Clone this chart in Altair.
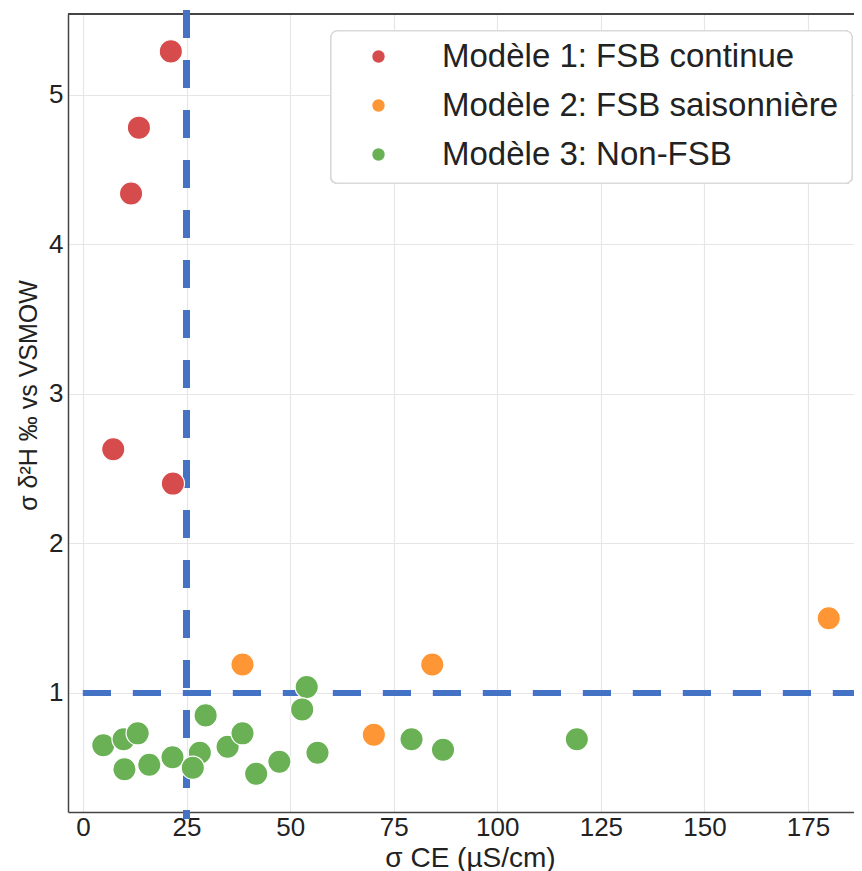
import altair as alt
import pandas as pd

# ---- data ----
m1_x = [21.2, 13.5, 11.6, 7.3, 21.7]
m1_y = [5.29, 4.78, 4.34, 2.63, 2.40]

m2_x = [38.5, 84.3, 70.2, 180.0]
m2_y = [1.19, 1.19, 0.72, 1.50]

m3_x = [4.9, 9.8, 13.2, 10.0, 16.0, 21.6, 28.2, 26.5, 29.6, 34.9, 38.5, 41.8,
        47.4, 54.0, 52.9, 56.6, 79.3, 86.9, 119.2]
m3_y = [0.65, 0.69, 0.73, 0.49, 0.52, 0.57, 0.60, 0.50, 0.85, 0.64, 0.73, 0.46,
        0.54, 1.04, 0.89, 0.60, 0.69, 0.62, 0.69]

labels = ["Modèle 1: FSB continue", "Modèle 2: FSB saisonnière", "Modèle 3: Non-FSB"]
colors = ["#d64b4b", "#fe9635", "#6ab155"]

x_ticks = [0, 25, 50, 75, 100, 125, 150, 175]
y_ticks = [1, 2, 3, 4, 5]
x_domain = [-3.62, 186.1]
y_domain = [0.204, 5.54]
x_thresh = 25
y_thresh = 1

rows = []
for lab, xs, ys in zip(labels, [m1_x, m2_x, m3_x], [m1_y, m2_y, m3_y]):
    for a, b in zip(xs, ys):
        rows.append({"x": a, "y": b, "model": lab})
df = pd.DataFrame(rows)

W, H = 786, 798
FONT = "Liberation Sans"

xscale = alt.Scale(domain=x_domain, nice=False, zero=False)
yscale = alt.Scale(domain=y_domain, nice=False, zero=False)

frame = alt.Chart(df).mark_rect(
    fill="white", stroke="#d9d9d9", strokeWidth=1.2, cornerRadius=6
).encode(
    x=alt.value(263), x2=alt.value(784), y=alt.value(17), y2=alt.value(169)
)

top_border = alt.Chart(df).mark_rule(color="#444444", strokeWidth=1.5).encode(
    x=alt.value(0), x2=alt.value(W), y=alt.value(0)
)

vline = alt.Chart(df).mark_rule(
    color="#4472c4", strokeWidth=6, strokeDash=[28, 22], clip=False
).encode(
    x=alt.datum(x_thresh, scale=xscale), y=alt.value(-4), y2=alt.value(H + 7)
)

hline = alt.Chart(df).mark_rule(
    color="#4472c4", strokeWidth=6, strokeDash=[28, 22]
).encode(
    x=alt.datum(0), x2=alt.value(W), y=alt.datum(y_thresh, scale=yscale)
)

points = alt.Chart(df).mark_circle(
    size=540, opacity=1, stroke="white", strokeWidth=1.2
).encode(
    x=alt.X("x:Q", scale=xscale,
            axis=alt.Axis(values=x_ticks, format="d", title="σ CE (µS/cm)",
                          titleX=402, titleY=54, titleBaseline="alphabetic",
                          titleFontSize=28, labelPadding=2, labelFontSize=26)),
    y=alt.Y("y:Q", scale=yscale,
            axis=alt.Axis(values=y_ticks, format="d", title="σ δ²H ‰ vs VSMOW",
                          titleX=-40, titleY=381, titleAngle=-90,
                          titleBaseline="middle", titleAlign="center",
                          titleFontSize=25)),
    color=alt.Color("model:N",
                    scale=alt.Scale(domain=labels, range=colors),
                    legend=alt.Legend(title=None, orient="none", legendX=294,
                                      legendY=26, symbolSize=154,
                                      symbolStrokeWidth=0, symbolType="circle",
                                      labelFontSize=33, labelFont=FONT,
                                      labelColor="#222222", labelOffset=47,
                                      labelLimit=0, rowPadding=15, padding=0)),
)

chart = alt.layer(frame, top_border, hline, vline, points).properties(
    width=W, height=H,
    autosize=alt.AutoSizeParams(type="none"),
    padding={"left": 60, "top": 6, "right": 0, "bottom": 66},
).configure_view(stroke=None).configure_axis(
    grid=True, gridColor="#e6e6e6", gridWidth=1.2,
    domainColor="#444444", domainWidth=1.5,
    ticks=False, labelFont=FONT, labelFontSize=26, labelColor="#222222",
    labelPadding=5, titleFont=FONT, titleColor="#222222",
    titleFontWeight="normal",
)

chart.save("out.html", embed_options={"renderer": "svg", "actions": False})
